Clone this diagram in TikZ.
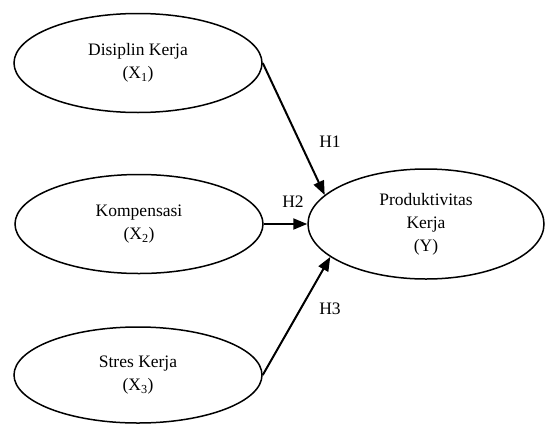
\documentclass[tikz,border=0pt]{standalone}
\usepackage{fontspec}
\setmainfont{Liberation Serif}
\usetikzlibrary{shapes.geometric,arrows.meta}
\begin{document}
\begin{tikzpicture}[x=1pt,y=-1pt,
  var/.style={draw,ellipse,line width=1.5pt,minimum width=248pt,minimum height=99pt,inner sep=0pt,align=center,font=\fontsize{17.5}{23}\selectfont},
  conn/.style={line width=2pt,-{Triangle[length=14pt,width=11pt]}},
  lbl/.style={font=\fontsize{17.5}{20}\selectfont,inner sep=0pt}]
\useasboundingbox (0,0) rectangle (545,423);
\node[var] (x1) at (138,63) {Disiplin Kerja\\(X\textsubscript{1})};
\node[var] (x2) at (139,224) {Kompensasi\\(X\textsubscript{2})};
\node[var,minimum height=96pt] (x3) at (138,375) {Stres Kerja\\(X\textsubscript{3})};
\node[var,minimum width=236pt,minimum height=110pt] (y) at (426,224) {Produktivitas\\Kerja\\(Y)};
\draw[conn] (x1.east) -- (y.164);
\draw[conn] (x2.east) -- (y.west);
\draw[conn] (x3.east) -- (y.199);
\node[lbl] (h1) at (330,142) {H1};
\node[lbl] (h2) at (293,202) {H2};
\node[lbl] (h3) at (330,309) {H3};
\end{tikzpicture}
\end{document}
